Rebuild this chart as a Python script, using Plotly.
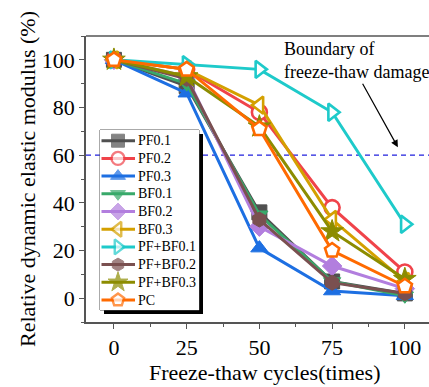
import plotly.graph_objects as go

cycles = [0, 25, 50, 75, 100]
series_names = ["PF0.1", "PF0.2", "PF0.3", "BF0.1", "BF0.2", "BF0.3",
                "PF+BF0.1", "PF+BF0.2", "PF+BF0.3", "PC"]
pf01 = [100, 89, 36, 7, 2]
pf02 = [100, 96, 78, 38, 11]
pf03 = [100, 86, 21, 3, 1]
bf01 = [100, 90, 35, 7, 1]
bf02 = [100, 93, 30, 13.5, 4]
bf03 = [100, 96, 81, 33, 7]
pfbf01 = [100, 98, 96, 78, 31]
pfbf02 = [100, 92, 33, 6.5, 2]
pfbf03 = [100, 93, 72, 28, 8]
pc = [100, 96, 71, 20, 5]
series_values = [pf01, pf02, pf03, bf01, bf02, bf03, pfbf01, pfbf02, pfbf03, pc]
x_ticks = [0, 25, 50, 75, 100]
y_ticks = [0, 20, 40, 60, 80, 100]
boundary = 60

colors = ["#505050", "#F0434A", "#1D6FE2", "#38A96A", "#B27EDE", "#D4A000",
          "#1ECACA", "#7A5050", "#8C8C00", "#FF6A00"]
symbols = ["square", "circle", "triangle-up", "triangle-down", "diamond",
           "triangle-left", "triangle-right", "hexagon", "star", "pentagon"]
open_marker = [False, True, False, False, False, True, True, False, False, True]

FONT = "'Liberation Serif', 'Times New Roman', Times, serif"
W, H = 429, 387
L, R, T, B = 86, 0, 36, 65
PW, PH = W - L - R, H - T - B

def px(p):
    return (p - L) / PW

def py(p):
    return (H - B - p) / PH

fig = go.Figure()

for name, vals, c, s, o in zip(series_names, series_values, colors, symbols, open_marker):
    mk = dict(symbol=s, size=15 if s != "star" else 17,
              color="white" if o else c,
              line=dict(color=c, width=2.6 if o else 1))
    fig.add_trace(go.Scatter(x=cycles, y=vals, mode="lines+markers", name=name,
                             line=dict(color=c, width=3), marker=mk,
                             showlegend=False, xaxis="x", yaxis="y"))

# manual legend inside an overlay axis (pixel-like coordinates)
lg_x0, lg_x1, lg_y0, lg_y1 = 100, 199, 130, 310
for i, (name, c, s, o) in enumerate(zip(series_names, colors, symbols, open_marker)):
    yy = 10.7 + 17.7 * i
    mk = dict(symbol=s, size=[0, 13 if s != "star" else 15, 0],
              color="white" if o else c,
              line=dict(color=c, width=2.4 if o else 1))
    fig.add_trace(go.Scatter(x=[1.5, 18, 35], y=[yy, yy, yy], mode="lines+markers",
                             line=dict(color=c, width=3), marker=mk,
                             showlegend=False, xaxis="x2", yaxis="y2",
                             hoverinfo="skip"))
    fig.add_annotation(x=36, y=yy, xref="x2", yref="y2", text=name, showarrow=False,
                       xanchor="left", yanchor="middle",
                       font=dict(family=FONT, size=14, color="black"))

shapes = [
    dict(type="line", xref="paper", yref="y", x0=0, x1=1, y0=boundary, y1=boundary,
         line=dict(color="#2020DD", width=1.2, dash="5px,4px"), layer="below"),
    dict(type="rect", xref="paper", yref="paper", x0=px(lg_x0 + 4), x1=px(lg_x1 + 4),
         y0=py(lg_y1 + 4), y1=py(lg_y0 + 4), fillcolor="black",
         line=dict(width=0), layer="below"),
    dict(type="rect", xref="paper", yref="paper", x0=px(lg_x0), x1=px(lg_x1),
         y0=py(lg_y1), y1=py(lg_y0), fillcolor="white",
         line=dict(color="#555555", width=1), layer="below"),
    dict(type="line", xref="paper", yref="paper", x0=0, x1=1, y0=1, y1=1,
         line=dict(color="#555555", width=1.5)),
]

fig.add_annotation(x=57.7, y=99.6, xref="x", yref="y",
                   text="Boundary of<br>freeze-thaw damage", showarrow=False,
                   xanchor="left", yanchor="middle", align="left",
                   font=dict(family=FONT, size=18, color="black"))
fig.add_annotation(x=97.6, y=63.3, ax=85.2, ay=90.6, xref="x", yref="y",
                   axref="x", ayref="y", text="", showarrow=True,
                   arrowhead=2, arrowsize=1.2, arrowwidth=1.2, arrowcolor="black")
# x-axis title (placed to match the reference's centring)
fig.add_annotation(x=px(265), y=py(372), xref="paper", yref="paper",
                   text="Freeze-thaw cycles(times)", showarrow=False,
                   xanchor="center", yanchor="middle",
                   font=dict(family=FONT, size=22, color="black"))

axis_common = dict(showline=True, linecolor="#555555", linewidth=1.5,
                   ticks="outside", ticklen=5, tickwidth=1.2, tickcolor="#555555",
                   showgrid=False, zeroline=False, automargin=False,
                   tickfont=dict(family=FONT, size=22, color="black"))

fig.update_layout(
    width=W, height=H,
    margin=dict(l=L, r=R, t=T, b=B),
    paper_bgcolor="white", plot_bgcolor="white",
    showlegend=False,
    shapes=shapes,
    xaxis=dict(range=[-9.6, 108.3], tickvals=x_ticks,
               minor=dict(dtick=12.5, tick0=0, ticks="outside", ticklen=3,
                          tickcolor="#555555"),
               **axis_common),
    yaxis=dict(range=[-10, 110], tickvals=y_ticks,
               minor=dict(dtick=10, tick0=0, ticks="outside", ticklen=3,
                          tickcolor="#555555"),
               title=dict(text="Relative dynamic elastic modulus (%)", standoff=0,
                          font=dict(family=FONT, size=22, color="black")),
               **axis_common),
    xaxis2=dict(domain=[px(lg_x0), px(lg_x1)], range=[0, lg_x1 - lg_x0], anchor="y2",
                visible=False, fixedrange=True),
    yaxis2=dict(domain=[py(lg_y1), py(lg_y0)], range=[lg_y1 - lg_y0, 0], anchor="x2",
                visible=False, fixedrange=True),
)

fig.write_html("out.html", config={"displayModeBar": False},
               post_script="document.body.style.margin='0';document.body.style.overflow='hidden';")
